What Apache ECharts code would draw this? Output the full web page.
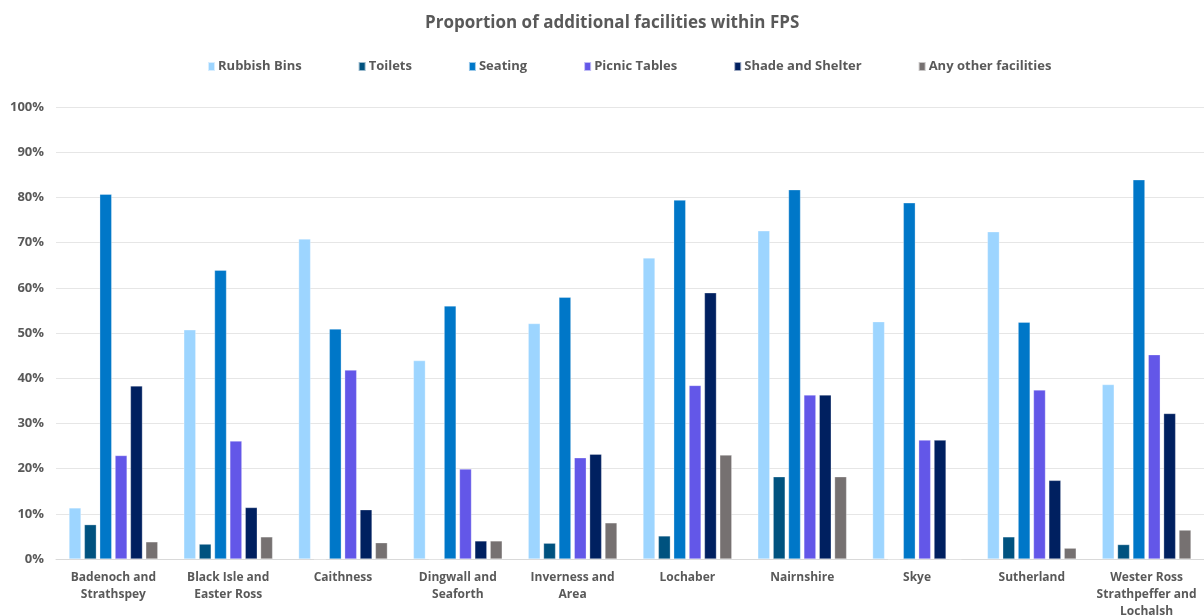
<!DOCTYPE html>
<html>
<head>
<meta charset="utf-8">
<title>Proportion of additional facilities within FPS</title>
<script src="https://cdn.jsdelivr.net/npm/echarts@6/dist/echarts.min.js"></script>
<style>
  html, body { margin: 0; padding: 0; background: #fff; }
  #chart { width: 1204px; height: 615px; }
</style>
</head>
<body>
<div id="chart"></div>
<script>
// 区域名称（按图中换行）
const categories = [
  "Badenoch and\nStrathspey",
  "Black Isle and\nEaster Ross",
  "Caithness",
  "Dingwall and\nSeaforth",
  "Inverness and\nArea",
  "Lochaber",
  "Nairnshire",
  "Skye",
  "Sutherland",
  "Wester Ross\nStrathpeffer and\nLochalsh",
];

// 各类设施占比（%）
const rubbishBins = [11.3, 50.7, 70.8, 43.9, 52.1, 66.6, 72.6, 52.5, 72.4, 38.6];
const toilets = [7.6, 3.3, 0, 0, 3.5, 5.1, 18.2, 0, 4.9, 3.2];
const seating = [80.7, 63.9, 50.9, 56.0, 57.9, 79.4, 81.7, 78.8, 52.4, 83.9];
const picnicTables = [22.9, 26.1, 41.8, 19.9, 22.4, 38.4, 36.3, 26.3, 37.4, 45.2];
const shadeShelter = [38.3, 11.4, 10.9, 4.0, 23.2, 58.9, 36.3, 26.3, 17.4, 32.2];
const otherFacilities = [3.8, 4.9, 3.6, 4.0, 8.0, 23.0, 18.2, 0, 2.4, 6.4];

const yTicks = [0, 10, 20, 30, 40, 50, 60, 70, 80, 90, 100];

const SERIES_LIST = [
  { name: "Rubbish Bins", data: rubbishBins, color: "#9DD5FF" },
  { name: "Toilets", data: toilets, color: "#00527F" },
  { name: "Seating", data: seating, color: "#0077C8" },
  { name: "Picnic Tables", data: picnicTables, color: "#6357E8" },
  { name: "Shade and Shelter", data: shadeShelter, color: "#002060" },
  { name: "Any other facilities", data: otherFacilities, color: "#767171" },
];

const FONT = "'Open Sans', 'Noto Sans', sans-serif";
const TEXT_COLOR = "#595959";

const chart = echarts.init(document.getElementById("chart"));

chart.setOption({
  animation: false,
  textStyle: { fontFamily: FONT },
  title: {
    text: "Proportion of additional facilities within FPS",
    left: 420,
    top: 10,
    textStyle: {
      fontFamily: FONT,
      fontSize: 17,
      fontWeight: "bold",
      color: TEXT_COLOR,
    },
  },
  legend: {
    top: 55,
    left: 202,
    itemWidth: 7,
    itemHeight: 9,
    itemGap: 56,
    icon: "rect",
    textStyle: {
      fontFamily: FONT,
      fontSize: 13,
      fontWeight: "bold",
      color: TEXT_COLOR,
      padding: [0, 0, 0, -2],
    },
    data: SERIES_LIST.map((s) => s.name),
  },
  grid: {
    left: 56,
    right: 0,
    top: 107,
    bottom: 56,
    outerBoundsMode: "none",
    containLabel: false,
  },
  xAxis: {
    type: "category",
    data: categories,
    axisTick: { show: false },
    axisLine: { lineStyle: { color: "#D9D9D9" } },
    axisLabel: {
      interval: 0,
      margin: 10,
      fontFamily: FONT,
      fontSize: 12,
      fontWeight: "bold",
      color: TEXT_COLOR,
      lineHeight: 17,
    },
  },
  yAxis: {
    type: "value",
    min: yTicks[0],
    max: yTicks[yTicks.length - 1],
    interval: 10,
    axisLine: { show: false },
    axisTick: { show: false },
    splitLine: { lineStyle: { color: "#E6E6E6", width: 1 } },
    axisLabel: {
      margin: 12,
      fontFamily: FONT,
      fontSize: 13,
      fontWeight: "bold",
      color: TEXT_COLOR,
      formatter: "{value}%",
    },
  },
  series: SERIES_LIST.map((s) => ({
    name: s.name,
    type: "bar",
    data: s.data,
    barWidth: 12,
    barGap: "28%",
    itemStyle: {
      color: s.color,
      borderColor: "rgba(255,255,255,0.6)",
      borderWidth: 0.5,
    },
  })),
});
</script>
</body>
</html>
